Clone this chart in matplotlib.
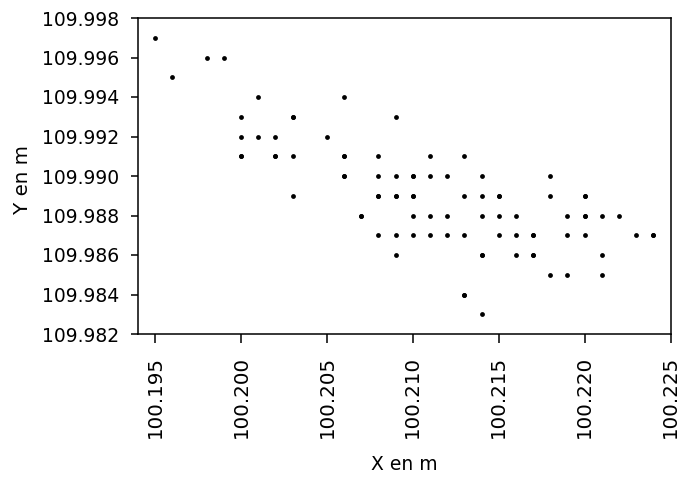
import matplotlib
matplotlib.use("Agg")
import matplotlib.pyplot as plt

# positions mesurees (m), une entree par point; les doublons se superposent
x_m = [100.195,
       100.198, 100.199,
       100.196,
       100.201, 100.206,
       100.200, 100.203, 100.203, 100.209,
       100.200, 100.201, 100.202, 100.205,
       100.200, 100.200, 100.202, 100.202, 100.203, 100.206, 100.206, 100.208, 100.211, 100.213,
       100.206, 100.206, 100.208, 100.209, 100.210, 100.210, 100.211, 100.212, 100.214, 100.218,
       100.203, 100.208, 100.208, 100.209, 100.209, 100.210, 100.210, 100.213, 100.214, 100.215, 100.215, 100.218, 100.220, 100.220,
       100.207, 100.207, 100.210, 100.211, 100.212, 100.214, 100.215, 100.216, 100.219, 100.220, 100.220, 100.221, 100.222,
       100.208, 100.209, 100.210, 100.211, 100.212, 100.213, 100.215, 100.216, 100.217, 100.217, 100.219, 100.220, 100.223, 100.224, 100.224,
       100.209, 100.214, 100.214, 100.216, 100.217, 100.217, 100.221,
       100.218, 100.219, 100.221,
       100.213, 100.213,
       100.214]
y_m = [109.997,
       109.996, 109.996,
       109.995,
       109.994, 109.994,
       109.993, 109.993, 109.993, 109.993,
       109.992, 109.992, 109.992, 109.992,
       109.991, 109.991, 109.991, 109.991, 109.991, 109.991, 109.991, 109.991, 109.991, 109.991,
       109.990, 109.990, 109.990, 109.990, 109.990, 109.990, 109.990, 109.990, 109.990, 109.990,
       109.989, 109.989, 109.989, 109.989, 109.989, 109.989, 109.989, 109.989, 109.989, 109.989, 109.989, 109.989, 109.989, 109.989,
       109.988, 109.988, 109.988, 109.988, 109.988, 109.988, 109.988, 109.988, 109.988, 109.988, 109.988, 109.988, 109.988,
       109.987, 109.987, 109.987, 109.987, 109.987, 109.987, 109.987, 109.987, 109.987, 109.987, 109.987, 109.987, 109.987, 109.987, 109.987,
       109.986, 109.986, 109.986, 109.986, 109.986, 109.986, 109.986,
       109.985, 109.985, 109.985,
       109.984, 109.984,
       109.983]

x_ticks = [100.195, 100.200, 100.205, 100.210, 100.215, 100.220, 100.225]
y_ticks = [109.982, 109.984, 109.986, 109.988, 109.990, 109.992, 109.994, 109.996, 109.998]

# l'original est etire verticalement: texte vertical un peu plus grand
fs_v = 14.3
fs_h = 13.5

fig = plt.figure(figsize=(6.81, 4.78), dpi=100)
ax = fig.add_axes([138 / 681, 1 - 334 / 478, (670.5 - 138) / 681, (334 - 18) / 478])
ax.scatter(x_m, y_m, s=12, c="black", linewidths=0)
ax.set_xlim(100.194, 100.225)
ax.set_ylim(109.982, 109.998)
ax.set_xticks(x_ticks)
ax.set_yticks(y_ticks)
ax.set_xticklabels(["%.3f" % v for v in x_ticks], rotation=90, fontsize=fs_v)
ax.set_yticklabels(["%.3f" % v for v in y_ticks], fontsize=fs_h)
ax.tick_params(axis="x", length=6.5, width=1.1, pad=9)
ax.tick_params(axis="y", length=4.7, width=1.1, pad=9)
for sp in ax.spines.values():
    sp.set_linewidth(1.1)
ax.set_xlabel("X en m", fontsize=fs_h)
ax.set_ylabel("Y en m", fontsize=fs_v)
ax.xaxis.set_label_coords(0.5, (334 - 455) / 316)
ax.yaxis.set_label_coords((32 - 138) / 533, 0.49)
fig.savefig("out.png", dpi=100)
